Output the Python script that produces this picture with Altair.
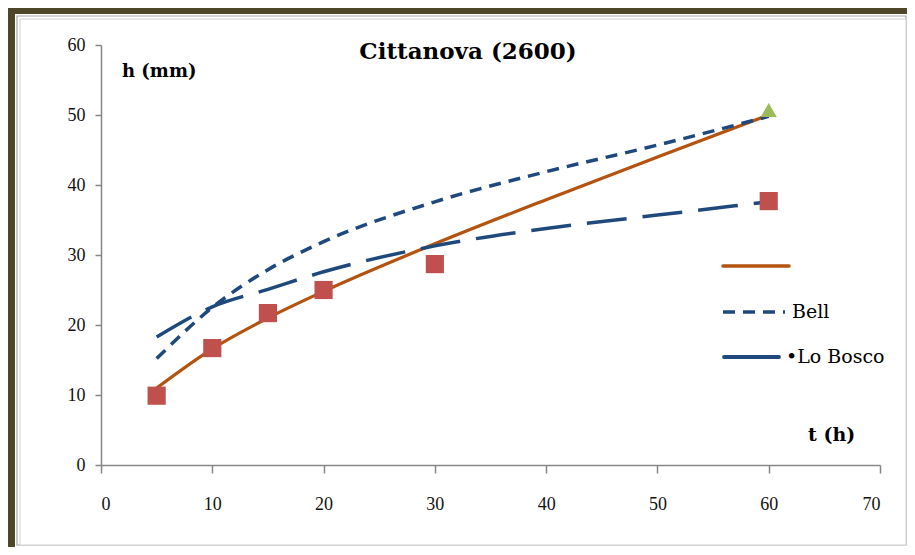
import altair as alt
import pandas as pd

# ---- data ----
t_obs = [5, 10, 15, 20, 30, 60]
h_obs = [9.9, 16.7, 21.7, 25.0, 28.7, 37.7]

t_tri = [60]
h_tri = [50.7]

t_curve = [5, 10, 15, 20, 30, 40, 50, 60]
h_fit = [11.0, 16.6, 21.0, 24.8, 31.6, 37.9, 44.0, 50.0]
h_bell = [15.2, 22.5, 27.9, 31.9, 37.6, 41.9, 45.7, 49.8]
h_lobosco = [18.3, 22.6, 25.1, 27.6, 31.3, 33.8, 35.7, 37.6]

x_ticks = [0, 10, 20, 30, 40, 50, 60, 70]
y_ticks = [0, 10, 20, 30, 40, 50, 60]

legend_labels = ["", "Bell", "Lo Bosco"]
title_text = "Cittanova (2600)"
y_title = "h (mm)"
x_title = "t (h)"

ORANGE = "#B4530F"
BLUE = "#1F497D"
RED = "#C0504D"
GREEN = "#9BBB59"
FRAME = "#4D4628"
GREY = "#A6A6A6"
FONT = "Liberation Serif"
TFONT = "DejaVu Serif"

obs = pd.DataFrame({"t": t_obs, "h": h_obs})
tri = pd.DataFrame({"t": t_tri, "h": h_tri})
curves = pd.DataFrame({"t": t_curve, "fit": h_fit, "bell": h_bell, "lobosco": h_lobosco})

W, H = 779, 420

xs = alt.Scale(domain=[0, 70], nice=False)
ys = alt.Scale(domain=[0, 60], nice=False)

x_axis = alt.Axis(values=x_ticks, title=None, grid=False, tickSize=8, labelPadding=22, zindex=2)
y_axis = alt.Axis(values=y_ticks, title=None, grid=False, tickSize=6, labelPadding=10, zindex=2)

X = alt.X("t:Q", scale=xs, axis=x_axis)

base = alt.Chart(curves)

# ---- frame decorations (pixel positions relative to plot area) ----
one = pd.DataFrame({"a": [0]})
dark_top = alt.Chart(one).mark_rect(color=FRAME).encode(
    x=alt.value(-93), x2=alt.value(806), y=alt.value(-37), y2=alt.value(-31))
dark_left = alt.Chart(one).mark_rect(color=FRAME).encode(
    x=alt.value(-93), x2=alt.value(-86), y=alt.value(-37), y2=alt.value(502))
grey_box1 = alt.Chart(one).mark_rect(fill="white", stroke=GREY, strokeWidth=1.2).encode(
    x=alt.value(-84), x2=alt.value(805), y=alt.value(-29), y2=alt.value(500))
grey_box2 = alt.Chart(one).mark_rect(fill="white", stroke="#D0D0D0", strokeWidth=1).encode(
    x=alt.value(-81), x2=alt.value(805), y=alt.value(-26), y2=alt.value(500))

fit_line = base.mark_line(color=ORANGE, strokeWidth=3.2, interpolate="monotone").encode(
    x=X, y=alt.Y("fit:Q", scale=ys, axis=y_axis))
bell_line = base.mark_line(color=BLUE, strokeWidth=3.5, strokeDash=[12, 8],
                           interpolate="monotone").encode(x="t:Q", y="bell:Q")
lob_line = base.mark_line(color=BLUE, strokeWidth=3.5, strokeDash=[40, 16],
                          interpolate="monotone").encode(x="t:Q", y="lobosco:Q")

squares = alt.Chart(obs).mark_point(shape="square", filled=True, color=RED, size=330,
                                    opacity=1).encode(x="t:Q", y="h:Q")
triangle = alt.Chart(tri).mark_point(shape="triangle-up", filled=True, color=GREEN,
                                     size=260, opacity=1).encode(x="t:Q", y="h:Q")

# ---- texts ----
title = alt.Chart(one).mark_text(text=title_text, font=TFONT, fontSize=23, fontWeight="bold",
                                 color="black").encode(x=alt.value(367), y=alt.value(7))
ytitle = alt.Chart(one).mark_text(text=y_title, font=TFONT, fontSize=18, fontWeight="bold",
                                  align="left", color="black").encode(x=alt.value(21), y=alt.value(27))
xtitle = alt.Chart(one).mark_text(text=x_title, font=TFONT, fontSize=19, fontWeight="bold",
                                  align="left", color="black").encode(x=alt.value(707), y=alt.value(390))

# ---- manual legend ----
leg1 = alt.Chart(one).mark_rule(color=ORANGE, strokeWidth=3.5, strokeCap="round").encode(
    x=alt.value(622), x2=alt.value(688), y=alt.value(221))
leg2 = alt.Chart(one).mark_rule(color=BLUE, strokeWidth=3.5, strokeDash=[12, 8]).encode(
    x=alt.value(622), x2=alt.value(684), y=alt.value(267))
leg3 = alt.Chart(one).mark_rule(color=BLUE, strokeWidth=3.8, strokeCap="round").encode(
    x=alt.value(623), x2=alt.value(678), y=alt.value(312))
leg_t2 = alt.Chart(one).mark_text(text=legend_labels[1], font=TFONT, fontSize=19, align="left",
                                  color="black").encode(x=alt.value(691), y=alt.value(267))
leg_t3 = alt.Chart(one).mark_text(text="\u2022" + legend_labels[2], font=TFONT, fontSize=19,
                                  align="left", color="black").encode(x=alt.value(685), y=alt.value(312))

chart = alt.layer(
    dark_top, dark_left, grey_box1, grey_box2,
    fit_line, bell_line, lob_line, squares, triangle,
    title, ytitle, xtitle, leg1, leg2, leg3, leg_t2, leg_t3,
).properties(
    width=W, height=H,
    autosize=alt.AutoSizeParams(type="none"),
    padding={"left": 93, "top": 37, "right": 27, "bottom": 82},
    background="white",
).configure_view(stroke=None).configure_axis(
    domainColor="#868686", tickColor="#868686", domainWidth=1.5, tickWidth=1.5,
    labelFont=FONT, labelFontSize=18, labelColor="#111111",
)

chart.save("out.html", embed_options={"renderer": "svg", "actions": False})
